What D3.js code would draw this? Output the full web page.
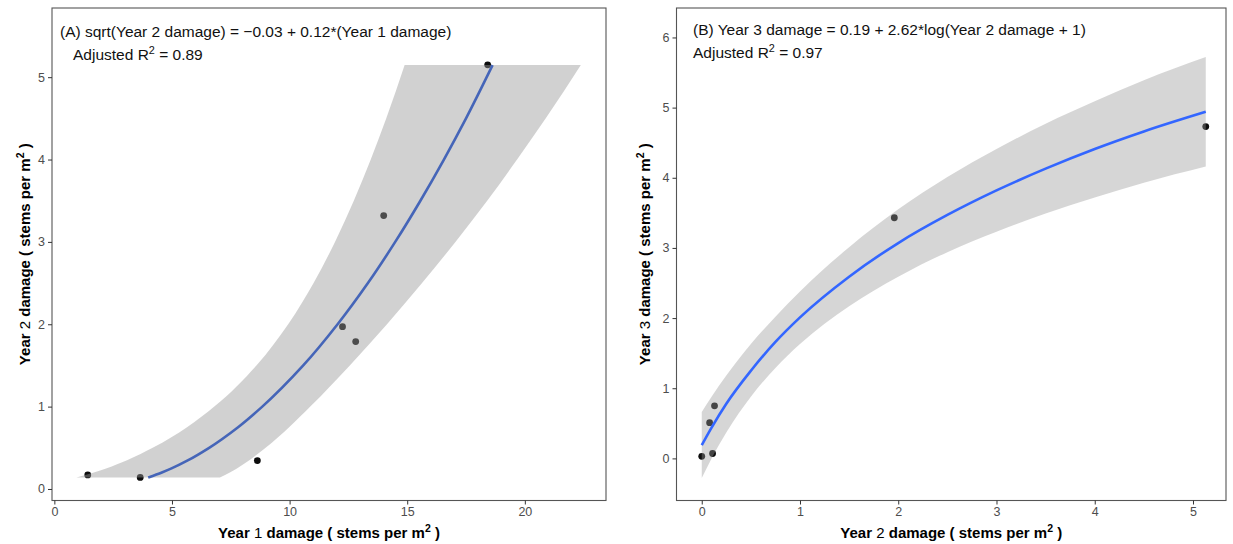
<!DOCTYPE html>
<html>
<head>
<meta charset="utf-8">
<script src="https://cdn.jsdelivr.net/npm/d3@7"></script>
<style>
body { margin: 0; background: #fff; }
svg { font-family: "Liberation Sans", Arial, sans-serif; }
</style>
</head>
<body>
<svg id="chart" width="1233" height="544"></svg>
<script>
// panel A: observations
const yearOneA = [1.42, 3.65, 8.63, 12.25, 12.81, 14.00, 18.42];
const yearTwoA = [0.17, 0.14, 0.345, 1.97, 1.79, 3.32, 5.15];

// panel A: fitted curve + band, read at fixed heights (x values at each y)
const levelsA = [0.138, 0.2, 0.25, 0.35, 0.5, 0.75, 1, 1.5, 2, 2.5, 3, 3.5, 4, 4.5, 5.147];
const fitA    = [3.99, 4.57, 4.98, 5.69, 6.58, 7.81, 8.84, 10.58, 12.04, 13.33, 14.49, 15.56, 16.56, 17.50, 18.63];
const lowA    = [0.94, 1.68, 2.20, 3.09, 4.18, 5.64, 6.80, 8.59, 9.94, 11.02, 11.93, 12.73, 13.45, 14.11, 14.89];
const highA   = [7.04, 7.46, 7.76, 8.29, 8.98, 9.98, 10.88, 12.56, 14.14, 15.63, 17.05, 18.40, 19.67, 20.89, 22.38];

// panel B: observations
const yearTwoB = [0.00, 0.11, 0.08, 0.13, 1.96, 5.13];
const yearThreeB = [0.03, 0.07, 0.51, 0.75, 3.43, 4.73];

// panel B: fitted curve + band (y values at each x)
const levelsB = [0, 0.1, 0.25, 0.5, 0.75, 1, 1.5, 2, 2.5, 3, 3.5, 4, 4.5, 5.13];
const fitB    = [0.19, 0.44, 0.78, 1.25, 1.66, 2.01, 2.59, 3.07, 3.47, 3.82, 4.13, 4.41, 4.66, 4.94];
const lowB    = [-0.28, 0.00, 0.37, 0.88, 1.29, 1.63, 2.17, 2.59, 2.94, 3.23, 3.49, 3.72, 3.93, 4.16];
const highB   = [0.66, 0.88, 1.18, 1.63, 2.02, 2.38, 3.01, 3.55, 4.01, 4.41, 4.77, 5.09, 5.39, 5.72];

const ticksAX = [0, 5, 10, 15, 20];
const ticksAY = [0, 1, 2, 3, 4, 5];
const ticksBX = [0, 1, 2, 3, 4, 5];
const ticksBY = [0, 1, 2, 3, 4, 5, 6];

let svg = d3.select("#chart");

function axisTitle(sel, num) {
    // bold title, the digit stays plain like in the original
    sel.append("tspan").text("Year ");
    sel.append("tspan").attr("font-weight", "normal").text(num);
    sel.append("tspan").text(" damage ( stems per m");
    sel.append("tspan").attr("dy", -6).attr("font-size", "0.7em").text("2");
    sel.append("tspan").attr("dy", 6).text(" )");
}

function drawPanel(p) {
    let g = svg.append("g");
    let x = d3.scaleLinear().domain(p.xDomain).range([p.left, p.right]);
    let y = d3.scaleLinear().domain(p.yDomain).range([p.bottom, p.top]);

    // points first, the band is laid over them
    g.selectAll(".pt")
        .data(p.px.map((d, i) => [d, p.py[i]]))
        .enter()
        .append("circle")
          .attr("cx", d => x(d[0]))
          .attr("cy", d => y(d[1]))
          .attr("r", 3.4)
          .attr("fill", "#0d0d0d");

    let band = p.band.map((d, i) => ({ v: d, fit: p.fit[i], lo: p.lo[i], hi: p.hi[i] }));
    let area, line;
    if (p.byY) {
        area = d3.area()
            .y(d => y(d.v)).x0(d => x(d.lo)).x1(d => x(d.hi))
            .curve(d3.curveMonotoneY);
        line = d3.line()
            .x(d => x(d.fit)).y(d => y(d.v))
            .curve(d3.curveMonotoneY);
    } else {
        area = d3.area()
            .x(d => x(d.v)).y0(d => y(d.lo)).y1(d => y(d.hi))
            .curve(d3.curveMonotoneX);
        line = d3.line()
            .x(d => x(d.v)).y(d => y(d.fit))
            .curve(d3.curveMonotoneX);
    }
    g.append("path")
        .attr("d", area(band))
        .attr("fill", "#999999")
        .attr("fill-opacity", p.bandAlpha);
    g.append("path")
        .attr("d", line(band))
        .attr("fill", "none")
        .attr("stroke", p.lineColor)
        .attr("stroke-width", 2.6);

    // frame
    g.append("rect")
        .attr("x", p.left).attr("y", p.top)
        .attr("width", p.right - p.left).attr("height", p.bottom - p.top)
        .attr("fill", "none")
        .attr("stroke", "#555")
        .attr("stroke-width", 1.1);

    let xAxis = d3.axisBottom(x).tickValues(p.xTicks).tickFormat(d3.format("d"))
                  .tickSize(4).tickPadding(3);
    let yAxis = d3.axisLeft(y).tickValues(p.yTicks).tickFormat(d3.format("d"))
                  .tickSize(4).tickPadding(3);
    g.append("g")
        .attr("transform", "translate(0," + p.bottom + ")")
        .call(xAxis);
    g.append("g")
        .attr("transform", "translate(" + p.left + ",0)")
        .call(yAxis);
    g.selectAll(".domain").remove();
    g.selectAll(".tick line").attr("stroke", "#333");
    g.selectAll(".tick text")
        .attr("fill", "#4d4d4d")
        .style("font-size", "12.5px")
        .style("font-family", "'Liberation Sans', Arial, sans-serif");

    let cx = (p.left + p.right) / 2;
    g.append("text")
        .attr("x", cx)
        .attr("y", 538)
        .attr("text-anchor", "middle")
        .attr("font-weight", "bold")
        .attr("font-size", 15)
        .call(axisTitle, p.xNum);

    g.append("text")
        .attr("transform", "rotate(-90)")
        .attr("x", -(p.top + p.bottom) / 2)
        .attr("y", p.yTitleX)
        .attr("text-anchor", "middle")
        .attr("font-weight", "bold")
        .attr("font-size", 15)
        .call(axisTitle, p.yNum);

    // equation
    g.append("text")
        .attr("x", p.eqX).attr("y", p.eqY)
        .attr("font-size", 15.5)
        .attr("fill", "#111")
        .text(p.eq);
    let r2 = g.append("text")
        .attr("x", p.r2X).attr("y", p.eqY + 23)
        .attr("font-size", 15.5)
        .attr("fill", "#111");
    r2.append("tspan").text("Adjusted R");
    r2.append("tspan").attr("dy", -6).attr("font-size", "0.7em").text("2");
    r2.append("tspan").attr("dy", 6).text(" = " + p.r2);
}

drawPanel({
    left: 52, right: 606, top: 8, bottom: 500.5,
    xDomain: [-0.1, 23.45], yDomain: [-0.14, 5.84],
    px: yearOneA, py: yearTwoA,
    band: levelsA, fit: fitA, lo: lowA, hi: highA, byY: true,
    bandAlpha: 0.45, lineColor: "#4565b8",
    xTicks: ticksAX, yTicks: ticksAY,
    xNum: "1", yNum: "2", yTitleX: 30,
    eq: "(A) sqrt(Year 2 damage) = \u22120.03 + 0.12*(Year 1 damage)",
    eqX: 60, eqY: 36.5, r2X: 73, r2: "0.89"
});

drawPanel({
    left: 676.5, right: 1226, top: 8, bottom: 500.5,
    xDomain: [-0.257, 5.336], yDomain: [-0.6, 6.42],
    px: yearTwoB, py: yearThreeB,
    band: levelsB, fit: fitB, lo: lowB, hi: highB, byY: false,
    bandAlpha: 0.4, lineColor: "#3366ff",
    xTicks: ticksBX, yTicks: ticksBY,
    xNum: "2", yNum: "3", yTitleX: 650,
    eq: "(B) Year 3 damage = 0.19 + 2.62*log(Year 2 damage + 1)",
    eqX: 693, eqY: 34.5, r2X: 693, r2: "0.97"
});
</script>
</body>
</html>
